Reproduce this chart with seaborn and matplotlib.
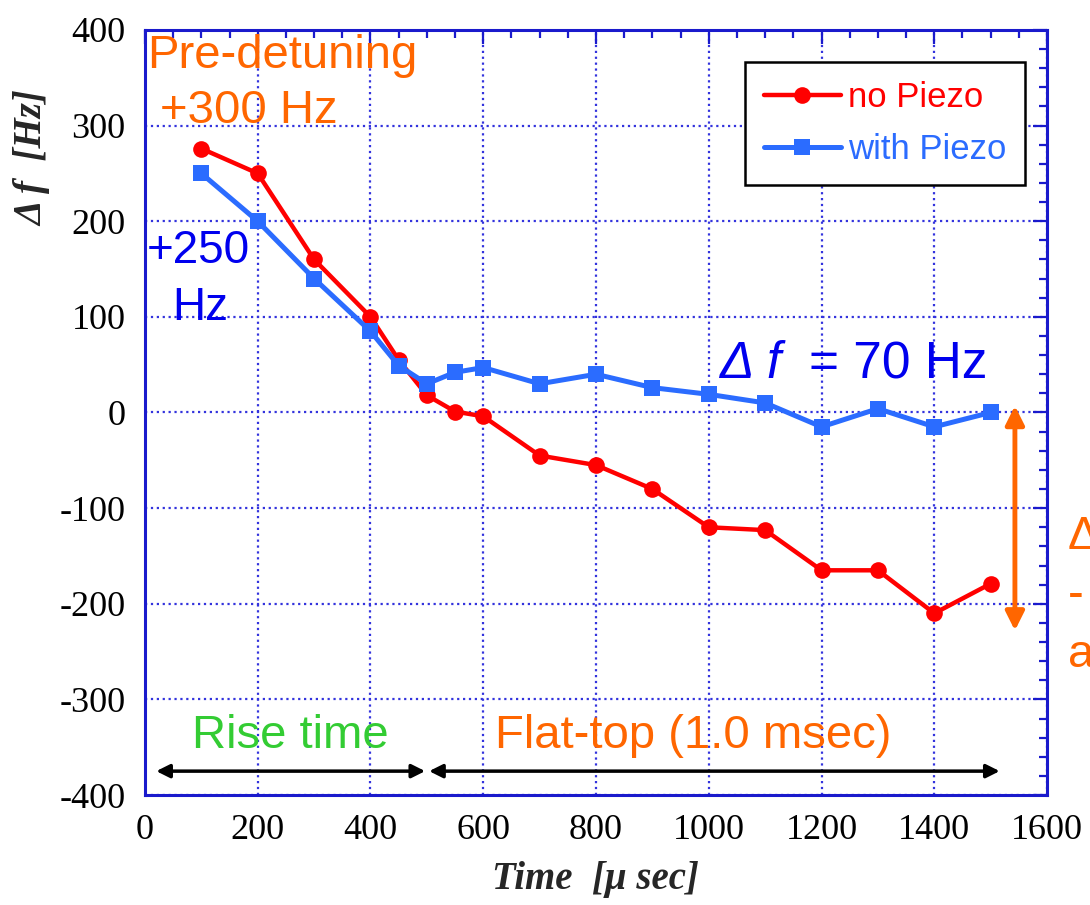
import pandas as pd
import matplotlib.pyplot as plt
import seaborn as sns
from matplotlib.ticker import MultipleLocator

# data
time_us = [100, 200, 300, 400, 450, 500, 550, 600, 700, 800, 900, 1000, 1100, 1200, 1300, 1400, 1500]
no_piezo = [276, 250, 160, 100, 55, 18, 1, -4, -45, -55, -80, -120, -123, -165, -165, -210, -179]
with_piezo = [250, 200, 140, 85, 49, 30, 42, 47, 30, 40, 26, 19, 10, -15, 4, -15, 0]

red = '#FF0000'
blue_line = '#2B6CFF'
blue_txt = '#0000EE'
orange = '#FF6600'
green = '#33CC33'
frame = '#1A1ACC'

df = pd.DataFrame({'time': time_us, 'no Piezo': no_piezo, 'with Piezo': with_piezo})

sns.set_style('white')
plt.rcParams['font.family'] = ['Liberation Sans', 'DejaVu Sans']
plt.rcParams['axes.unicode_minus'] = False

fig = plt.figure(figsize=(10.9, 9.05), dpi=100)
ax = fig.add_axes([0.133, 0.1215, 0.8276, 0.8454])

sns.lineplot(data=df, x='time', y='no Piezo', ax=ax, color=red, marker='o',
             markersize=12, linewidth=3.2, markeredgewidth=0, label='no Piezo')
sns.lineplot(data=df, x='time', y='with Piezo', ax=ax, color=blue_line, marker='s',
             markersize=12, linewidth=3.6, markeredgewidth=0, label='with Piezo')

ax.set_xlim(0, 1600)
ax.set_ylim(-400, 400)
ax.xaxis.set_major_locator(MultipleLocator(200))
ax.xaxis.set_minor_locator(MultipleLocator(50))
ax.yaxis.set_major_locator(MultipleLocator(100))
ax.yaxis.set_minor_locator(MultipleLocator(20))
ax.grid(which='major', linestyle=':', color='#3333DD', linewidth=1.6)
ax.tick_params(which='both', direction='in', top=True, right=True, color=frame,
               labelcolor='black', width=1.6)
ax.tick_params(which='major', length=10, labelsize=26, pad=14)
ax.tick_params(which='minor', length=6)
for lbl in ax.get_xticklabels() + ax.get_yticklabels():
    lbl.set_family('Liberation Serif')
for s in ax.spines.values():
    s.set_color(frame)
    s.set_linewidth(2.2)

ax.set_xlabel('')
ax.set_ylabel('')
fig.text(0.546, 0.028, 'Time  [\u03bc sec]', family='Liberation Serif', style='italic',
         weight='bold', fontsize=28, ha='center', va='center')
fig.text(0.03, 0.825, '\u0394 f  [Hz]', family='Liberation Serif', style='italic',
         weight='bold', fontsize=28, ha='center', va='center', rotation=90)

leg = ax.legend(loc='upper right', bbox_to_anchor=(0.9756, 0.958), borderaxespad=0,
                fontsize=25, handlelength=2.2, handletextpad=0.2, fancybox=False,
                framealpha=1, edgecolor='black', labelcolor='linecolor',
                borderpad=0.55, labelspacing=0.55)
leg.get_frame().set_linewidth(1.8)

# annotations
ax.text(3.5, 360, 'Pre-detuning', color=orange, fontsize=34, ha='left', va='baseline')
ax.text(27, 303, '+300 Hz', color=orange, fontsize=34, ha='left', va='baseline')
ax.text(3.5, 156, '+250', color=blue_txt, fontsize=33, ha='left', va='baseline')
ax.text(48, 97, 'Hz', color=blue_txt, fontsize=33, ha='left', va='baseline')
ax.text(1020, 36, '\u0394 f', color=blue_txt, fontsize=37, style='italic',
        ha='left', va='baseline')
ax.text(1178, 36, '= 70 Hz', color=blue_txt, fontsize=37, ha='left', va='baseline')
ax.text(83, -351, 'Rise time', color=green, fontsize=34, ha='left', va='baseline')
ax.text(621, -351, 'Flat-top (1.0 msec)', color=orange, fontsize=34, ha='left', va='baseline')
ax.text(1637, -107, '\u0394f =\n- 200 Hz\nat end', color=orange, fontsize=34,
        ha='left', va='top', linespacing=1.45, clip_on=False)

ax.annotate('', xy=(1543, 7), xytext=(1543, -228), annotation_clip=False,
            arrowprops=dict(arrowstyle='<|-|>', color=orange, lw=3.5, mutation_scale=28,
                            shrinkA=0, shrinkB=0))
for x0, x1 in [(20, 497), (504, 1516)]:
    ax.annotate('', xy=(x1, -375), xytext=(x0, -375),
                arrowprops=dict(arrowstyle='<|-|>', color='black', lw=2.5,
                                mutation_scale=20, shrinkA=0, shrinkB=0))

fig.savefig('out.png', dpi=100)
